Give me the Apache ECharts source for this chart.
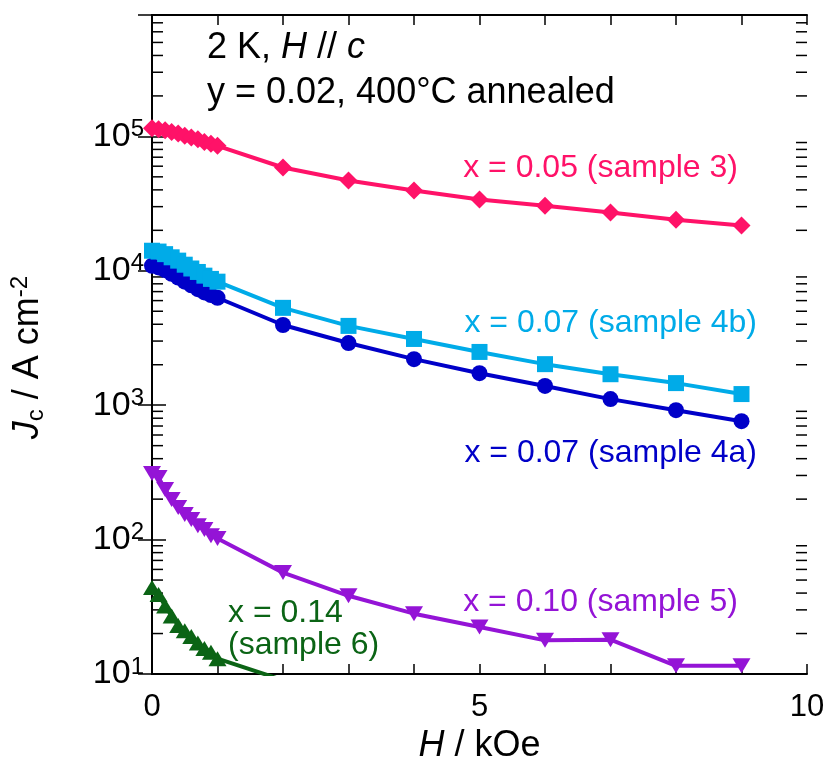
<!DOCTYPE html>
<html>
<head>
<meta charset="utf-8">
<script src="https://cdn.jsdelivr.net/npm/echarts@6/dist/echarts.min.js"></script>
<style>
html, body { margin: 0; padding: 0; background: #fff; }
#charts { width: 829px; height: 769px; }
</style>
</head>
<body>
<div id="charts"></div>
<script>
// field H (kOe)
var fieldH = [0, 0.1, 0.2, 0.3, 0.4, 0.5, 0.6, 0.7, 0.8, 0.9, 1, 2, 3, 4, 5, 6, 7, 8, 9];
var fieldH6 = [0, 0.1, 0.2, 0.3, 0.4, 0.5, 0.6, 0.7, 0.8, 0.9, 1, 2];

// Jc (A cm^-2)
var jcSample3 = [115000, 113000, 111000, 108000, 105000, 101000, 98000, 95000, 91000, 88000, 85000, 58700, 47000, 39500, 33900, 30500, 27100, 24000, 21700];
var jcSample4b = [14100, 13900, 13300, 12600, 11900, 11100, 10400, 9800, 9200, 8700, 8300, 5300, 3890, 3110, 2490, 2020, 1700, 1460, 1210];
var jcSample4a = [10900, 10600, 10100, 9500, 8900, 8300, 7800, 7300, 6900, 6600, 6300, 3950, 2900, 2200, 1730, 1390, 1110, 918, 760];
var jcSample5 = [310, 290, 236, 199, 173, 154, 141, 127, 119, 107, 102, 56.8, 38.2, 28.1, 22.4, 17.8, 18.0, 11.5, 11.5];
var jcSample6 = [44, 39, 32, 27, 23, 21, 19, 17, 15.5, 14.5, 13, 9];

var yMin = 10, yMax = 800000;
var minorMultipliers = [2, 3, 4, 5, 6, 7, 8, 9];
var decades = [10, 100, 1000, 10000, 100000];

var FONT = 'Liberation Sans, Arial, sans-serif';

function pairs(xs, ys) {
  return xs.map(function (x, i) { return [x, ys[i]]; });
}

var minorTickData = [];
decades.forEach(function (d) {
  minorMultipliers.forEach(function (m) {
    if (d * m <= yMax) minorTickData.push([0, d * m]);
  });
});

var chartDom = document.getElementById('charts');
var myChart = echarts.init(chartDom);

function lineSeries(name, xs, ys, color, symbol, size, rotate) {
  return {
    name: name,
    type: 'line',
    data: pairs(xs, ys),
    symbol: symbol,
    symbolSize: size,
    symbolRotate: rotate || 0,
    showAllSymbol: true,
    lineStyle: { color: color, width: 4 },
    itemStyle: { color: color },
    emphasis: { disabled: true }
  };
}

var option = {
  animation: false,
  grid: { left: 150, right: 22, top: 15, bottom: 95 },
  xAxis: [
    {
      type: 'value', min: 0, max: 10, interval: 1,
      name: '{i|H}{n| / kOe}', nameLocation: 'middle', nameGap: 50,
      nameTextStyle: {
        rich: {
          i: { fontSize: 36, fontFamily: FONT, fontStyle: 'italic', color: '#000' },
          n: { fontSize: 36, fontFamily: FONT, color: '#000' }
        }
      },
      axisLine: { show: true, lineStyle: { color: '#000', width: 2 } },
      axisTick: { inside: true, length: 10, lineStyle: { color: '#000', width: 1.5 } },
      axisLabel: {
        fontSize: 31, fontFamily: FONT, color: '#000', margin: 18,
        formatter: function (v) { return v % 5 === 0 ? String(v) : ''; }
      },
      splitLine: { show: false }
    },
    {
      type: 'value', min: 0, max: 10, interval: 1, position: 'top',
      axisLine: { show: true, lineStyle: { color: '#000', width: 2 } },
      axisTick: { inside: true, length: 10, lineStyle: { color: '#000', width: 1.5 } },
      axisLabel: { show: false },
      splitLine: { show: false }
    }
  ],
  yAxis: [
    {
      type: 'log', logBase: 10, min: yMin, max: yMax,
      name: '{i|J}{sub|c}{n| / A cm}{sup|-2}', nameLocation: 'middle', nameGap: 104, nameRotate: 90,
      nameTextStyle: {
        padding: [0, 26, 0, 0],
        rich: {
          i: { fontSize: 36, fontFamily: FONT, fontStyle: 'italic', color: '#000', lineHeight: 40 },
          n: { fontSize: 36, fontFamily: FONT, color: '#000', lineHeight: 40 },
          sub: { fontSize: 24, fontFamily: FONT, color: '#000', verticalAlign: 'bottom', lineHeight: 26 },
          sup: { fontSize: 24, fontFamily: FONT, color: '#000', verticalAlign: 'top', lineHeight: 22 }
        }
      },
      axisLine: { show: true, lineStyle: { color: '#000', width: 2 } },
      axisTick: { inside: true, length: 14, lineStyle: { color: '#000', width: 1.5 } },
      axisLabel: {
        margin: 8, showMaxLabel: false,
        rich: {
          sup: { fontSize: 24, fontFamily: FONT, color: '#000', verticalAlign: 'top', lineHeight: 22 },
          n: { fontSize: 34, fontFamily: FONT, color: '#000', lineHeight: 38 }
        },
        formatter: function (v) {
          var e = Math.log10(v);
          if (Math.abs(e - Math.round(e)) > 1e-6) return '';
          return '{n|10}{sup|' + Math.round(e) + '}';
        }
      },
      splitLine: { show: false }
    },
    {
      type: 'log', logBase: 10, min: yMin, max: yMax, position: 'right',
      axisLine: { show: true, lineStyle: { color: '#000', width: 2 } },
      axisTick: { inside: true, length: 14, lineStyle: { color: '#000', width: 1.5 } },
      axisLabel: { show: false },
      splitLine: { show: false }
    }
  ],
  series: [
    {
      type: 'custom',
      data: minorTickData,
      silent: true,
      renderItem: function (params, api) {
        var v = api.value(1);
        var pL = api.coord([0, v]);
        var pR = api.coord([10, v]);
        return {
          type: 'group',
          children: [
            { type: 'line', shape: { x1: pL[0], y1: pL[1], x2: pL[0] + 11, y2: pL[1] }, style: { stroke: '#000', lineWidth: 1.5 } },
            { type: 'line', shape: { x1: pR[0], y1: pR[1], x2: pR[0] - 11, y2: pR[1] }, style: { stroke: '#000', lineWidth: 1.5 } }
          ]
        };
      }
    },
    lineSeries('sample 3', fieldH, jcSample3, '#FF1268', 'diamond', [18, 18], 0),
    lineSeries('sample 4a', fieldH, jcSample4a, '#0000C8', 'circle', 16, 0),
    lineSeries('sample 4b', fieldH, jcSample4b, '#00ABE8', 'rect', 16, 0),
    lineSeries('sample 5', fieldH, jcSample5, '#9414D6', 'triangle', [18, 15], 180),
    lineSeries('sample 6', fieldH6, jcSample6, '#0B6415', 'triangle', [18, 15], 0)
  ],
  graphic: [
    { type: 'text', x: 207, y: 48, style: { text: '2 K, {i|H} // {i|c}', fontSize: 36, fontFamily: FONT, fill: '#000', verticalAlign: 'middle',
      rich: { i: { fontSize: 36, fontFamily: FONT, fontStyle: 'italic', fill: '#000' } } } },
    { type: 'text', x: 207, y: 93, style: { text: 'y = 0.02, 400°C annealed', fontSize: 36, fontFamily: FONT, fill: '#000', verticalAlign: 'middle' } },
    { type: 'text', x: 738, y: 168, style: { text: 'x = 0.05 (sample 3)', fontSize: 32, fontFamily: FONT, fill: '#FF1268', align: 'right', verticalAlign: 'middle' } },
    { type: 'text', x: 757, y: 323, style: { text: 'x = 0.07 (sample 4b)', fontSize: 32, fontFamily: FONT, fill: '#00ABE8', align: 'right', verticalAlign: 'middle' } },
    { type: 'text', x: 757, y: 453, style: { text: 'x = 0.07 (sample 4a)', fontSize: 32, fontFamily: FONT, fill: '#0000C8', align: 'right', verticalAlign: 'middle' } },
    { type: 'text', x: 738, y: 602, style: { text: 'x = 0.10 (sample 5)', fontSize: 32, fontFamily: FONT, fill: '#9414D6', align: 'right', verticalAlign: 'middle' } },
    { type: 'text', x: 228, y: 613, style: { text: 'x = 0.14', fontSize: 32, fontFamily: FONT, fill: '#0B6415', verticalAlign: 'middle' } },
    { type: 'text', x: 228, y: 645, style: { text: '(sample 6)', fontSize: 32, fontFamily: FONT, fill: '#0B6415', verticalAlign: 'middle' } }
  ]
};

option && myChart.setOption(option);
</script>
</body>
</html>
